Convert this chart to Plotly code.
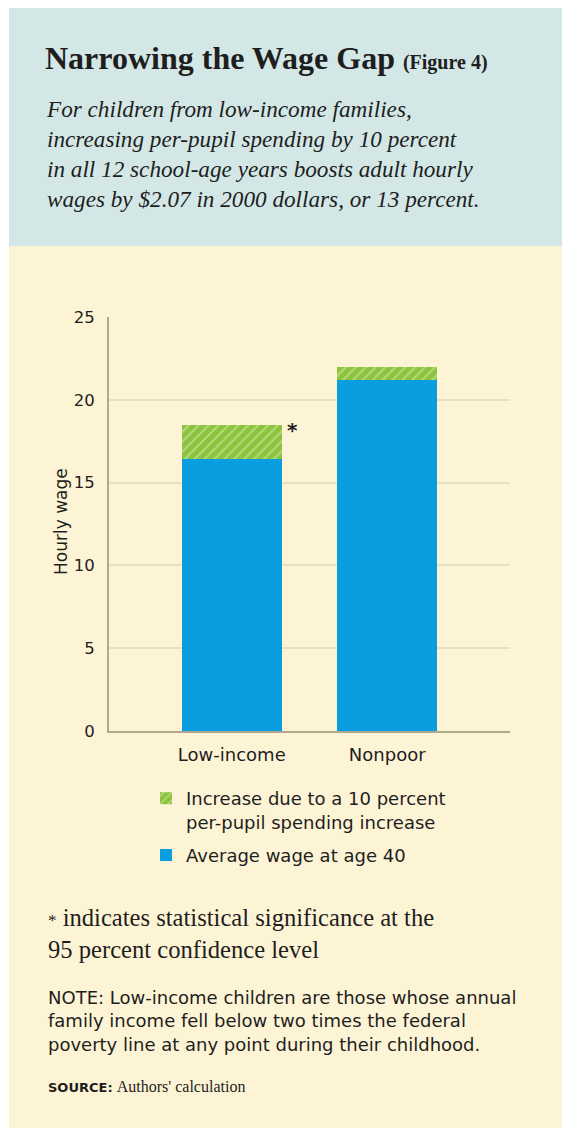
import plotly.graph_objects as go

categories = ["Low-income", "Nonpoor"]
avg_wage = [16.4, 21.2]
increase = [2.07, 0.8]
significant = [True, False]
y_ticks = [0, 5, 10, 15, 20, 25]

W, H = 562, 1128
PL, PR, PT, PB = 109, 510, 317, 731  # plot area in pixels


def px(x):
    return (x - PL) / (PR - PL)


def py(y):
    return (PB - y) / (PB - PT)


SANS = "DejaVu Sans"
SERIF = "Liberation Serif"
BLUE = "#0a9ddf"
GREEN = "#8cc43f"
CREAM = "#fdf4d5"
HEADER = "#d3e8e6"
TXT = "#1e1e1e"

fig = go.Figure()
fig.add_trace(go.Bar(
    x=categories, y=avg_wage, name="Average wage at age 40", legendgroup="avg",
    legendrank=2,
    marker=dict(color=BLUE, line=dict(width=0)), width=0.64,
))
fig.add_trace(go.Bar(
    x=categories, y=increase, legendgroup="inc", legendrank=1,
    name="Increase due to a 10 percent<br>per-pupil spending increase",
    marker=dict(color=GREEN, line=dict(width=0),
                pattern=dict(shape="/", fgcolor="#e6f3c8", size=7,
                             solidity=0.25, fillmode="overlay")),
    width=0.64,
))

annotations = []
for i, c in enumerate(categories):
    if significant[i]:
        annotations.append(dict(
            x=i + 0.39, y=avg_wage[i] + increase[i] - 0.3, xref="x", yref="y",
            text="<b>*</b>", showarrow=False, xanchor="center", yanchor="middle",
            font=dict(family=SANS, size=20, color=TXT),
        ))

# Y axis title
annotations.append(dict(
    x=px(61), y=py(522), xref="paper", yref="paper", xanchor="center", yanchor="middle",
    showarrow=False, textangle=-90, text="Hourly wage",
    font=dict(family=SANS, size=17, color=TXT),
))

# Header texts
annotations.append(dict(
    x=px(43), y=py(58), xref="paper", yref="paper", xanchor="left", yanchor="middle",
    showarrow=False, align="left",
    text="<b>Narrowing the Wage Gap</b> <b><span style='font-size:20px'>(Figure 4)</span></b>",
    font=dict(family=SERIF, size=32, color=TXT),
))
annotations.append(dict(
    x=px(44), y=py(94), xref="paper", yref="paper", xanchor="left", yanchor="top",
    showarrow=False, align="left",
    text=("<i>For children from low-income families,<br>"
          "increasing per-pupil spending by 10 percent<br>"
          "in all 12 school-age years boosts adult hourly<br>"
          "wages by $2.07 in 2000 dollars, or 13 percent.</i>"),
    font=dict(family=SERIF, size=23.2, color=TXT),
))
# Footer texts
annotations.append(dict(
    x=px(46), y=py(902), xref="paper", yref="paper", xanchor="left", yanchor="top",
    showarrow=False, align="left",
    text="<span style='font-size:17px'>*</span> indicates statistical significance at the<br>95 percent confidence level",
    font=dict(family=SERIF, size=24.6, color=TXT),
))
annotations.append(dict(
    x=px(46), y=py(985), xref="paper", yref="paper", xanchor="left", yanchor="top",
    showarrow=False, align="left",
    text=("NOTE: Low-income children are those whose annual<br>"
          "family income fell below two times the federal<br>"
          "poverty line at any point during their childhood."),
    font=dict(family=SANS, size=18, color=TXT),
))
annotations.append(dict(
    x=px(46), y=py(1086), xref="paper", yref="paper", xanchor="left", yanchor="middle",
    showarrow=False, align="left",
    text=("<b>SOURCE:</b> <span style=\"font-family:'Liberation Serif';font-size:16px\">"
          "Authors' calculation</span>"),
    font=dict(family=SANS, size=13, color=TXT),
))

shapes = [
    dict(type="rect", xref="paper", yref="paper", x0=px(9), x1=px(W + 5),
         y0=py(246), y1=py(8), fillcolor=HEADER, line=dict(width=0), layer="below"),
    dict(type="rect", xref="paper", yref="paper", x0=px(9), x1=px(W + 5),
         y0=py(H + 5), y1=py(246), fillcolor=CREAM, line=dict(width=0), layer="below"),
]

fig.update_layout(
    width=W, height=H,
    margin=dict(l=PL, r=W - PR, t=PT, b=H - PB, pad=0),
    paper_bgcolor="white", plot_bgcolor="rgba(0,0,0,0)",
    barmode="stack", bargap=0,
    showlegend=True,
    legend=dict(
        x=px(146), y=py(780), xanchor="left", yanchor="top",
        traceorder="grouped", valign="top", bgcolor="rgba(0,0,0,0)",
        font=dict(family=SANS, size=18, color=TXT), tracegroupgap=7,
        itemclick=False,
    ),
    xaxis=dict(
        range=[-0.79, 1.79], showgrid=False, showline=True, linecolor="#aea98f",
        linewidth=2, ticks="", tickfont=dict(family=SANS, size=18, color=TXT),
        ticklabelstandoff=6, fixedrange=True,
    ),
    yaxis=dict(
        range=[0, 25], tickvals=y_ticks, showgrid=True, gridcolor="#e6e0c2", gridwidth=1.5,
        showline=True, linecolor="#aea98f", linewidth=2, ticks="",
        tickfont=dict(family=SANS, size=16.5, color=TXT), ticklabelstandoff=9,
        zeroline=False, automargin=False, fixedrange=True,
    ),
    annotations=annotations,
    shapes=shapes,
)

fig.write_html("out.html")
